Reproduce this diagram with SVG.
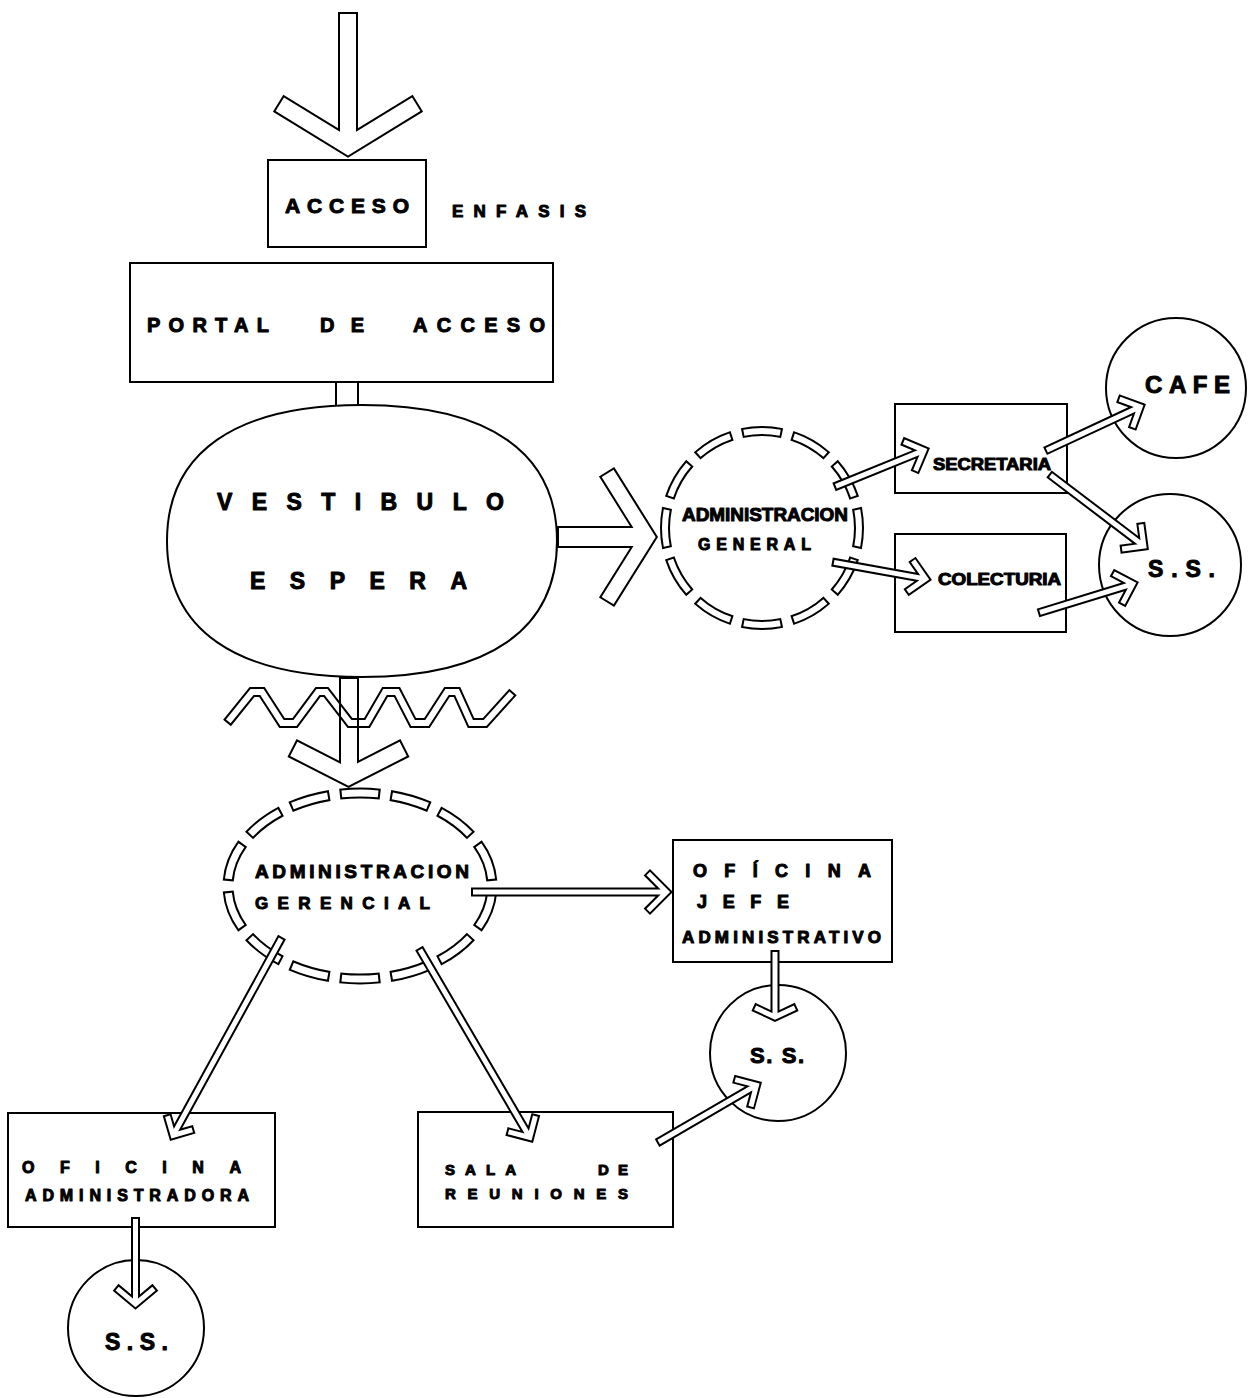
<svg xmlns="http://www.w3.org/2000/svg" width="1252" height="1398" viewBox="0 0 1252 1398">
<style>
.n{fill:none;stroke:#000;stroke-width:2}
.t{font-family:"Liberation Sans",Arial,sans-serif;font-weight:bold;fill:#000;stroke:#000;stroke-width:1;stroke-linejoin:round}
.kb{fill:none;stroke:#000;stroke-linejoin:miter;stroke-miterlimit:10;stroke-linecap:butt}
.kw{fill:none;stroke:#fff;stroke-linejoin:miter;stroke-miterlimit:10;stroke-linecap:butt}
.b9{stroke-width:9}.w5{stroke-width:5}
.ln{stroke:#000;stroke-width:2;fill:none}
</style>
<rect width="1252" height="1398" fill="#fff"/>

<g id="acceso">
<rect class="n" x="268" y="160" width="158" height="87"/>
<text class="t" x="285" y="213" font-size="21" textLength="124">ACCESO</text>
</g>
<g id="enfasis">
<text class="t" x="452" y="217" font-size="17" textLength="134">ENFASIS</text>
</g>
<g id="portal">
<rect class="n" x="130" y="263" width="423" height="119"/>
<text class="t" x="147" y="332" font-size="20" textLength="122">PORTAL</text>
<text class="t" x="320" y="332" font-size="20" textLength="44">DE</text>
<text class="t" x="413" y="332" font-size="20" textLength="132">ACCESO</text>
</g>
<g id="vestibulo">
<path class="n" d="M557,541 C557,629.4 488.8,677 362,677 C235.2,677 167,629.4 167,541 C167,452.6 235.2,405 362,405 C488.8,405 557,452.6 557,541 Z"/>
<text class="t" x="217" y="510" font-size="23" textLength="287">VESTIBULO</text>
<text class="t" x="250" y="589" font-size="23" textLength="217">ESPERA</text>
</g>
<g id="admin-general">
<circle cx="762" cy="528" r="97" pathLength="12" fill="none" stroke="#000" stroke-width="10" stroke-dasharray="0.8 0.2" stroke-dashoffset="0.4"/>
<circle cx="762" cy="528" r="97" pathLength="12" fill="none" stroke="#fff" stroke-width="6" stroke-dasharray="0.72 0.28" stroke-dashoffset="0.36"/>
<text class="t" x="682" y="521" font-size="18" textLength="166" lengthAdjust="spacingAndGlyphs">ADMINISTRACION</text>
<text class="t" x="698" y="550" font-size="16" textLength="113">GENERAL</text>
</g>
<g id="secretaria">
<rect class="n" x="895" y="404" width="172" height="89"/>
<text class="t" x="933" y="470" font-size="16" textLength="118" lengthAdjust="spacingAndGlyphs">SECRETARIA</text>
</g>
<g id="colecturia">
<rect class="n" x="895" y="534" width="171" height="98"/>
<text class="t" x="938" y="585" font-size="16" textLength="123" lengthAdjust="spacingAndGlyphs">COLECTURIA</text>
</g>
<g id="cafe">
<circle class="n" cx="1176" cy="388" r="70"/>
<text class="t" x="1145" y="393" font-size="24" textLength="85">CAFE</text>
</g>
<g id="ss-general">
<circle class="n" cx="1170" cy="565" r="71"/>
<text class="t" x="1148" y="577" font-size="23" textLength="67">S.S.</text>
</g>
<g id="admin-gerencial">
<ellipse cx="360" cy="886" rx="132" ry="93" pathLength="14" fill="none" stroke="#000" stroke-width="11" stroke-dasharray="0.8 0.2" stroke-dashoffset="-0.1"/>
<ellipse cx="360" cy="886" rx="132" ry="93" pathLength="14" fill="none" stroke="#fff" stroke-width="7" stroke-dasharray="0.72 0.28" stroke-dashoffset="-0.14"/>
<text class="t" x="255" y="878" font-size="19" textLength="214">ADMINISTRACION</text>
<text class="t" x="255" y="909" font-size="17" textLength="175">GERENCIAL</text>
</g>
<g id="oficina-jefe">
<rect class="n" x="673" y="840" width="219" height="122"/>
<text class="t" x="693" y="877" font-size="18" textLength="178">OFÍCINA</text>
<text class="t" x="697" y="908" font-size="18" textLength="92">JEFE</text>
<text class="t" x="682" y="943" font-size="17" textLength="199">ADMINISTRATIVO</text>
</g>
<g id="ss-jefe">
<circle class="n" cx="778" cy="1053" r="68"/>
<text class="t" x="750" y="1063" font-size="22" textLength="54">S. S.</text>
</g>
<g id="oficina-administradora">
<rect class="n" x="8" y="1113" width="267" height="114"/>
<text class="t" x="22" y="1173" font-size="16" textLength="219">OFICINA</text>
<text class="t" x="25" y="1201" font-size="16" textLength="224">ADMINISTRADORA</text>
</g>
<g id="sala-reuniones">
<rect class="n" x="418" y="1112" width="255" height="115"/>
<text class="t" x="445" y="1175" font-size="15" textLength="71">SALA</text>
<text class="t" x="598" y="1175" font-size="15" textLength="30">DE</text>
<text class="t" x="445" y="1199" font-size="15" textLength="183">REUNIONES</text>
</g>
<g id="ss-administradora">
<circle class="n" cx="136" cy="1328" r="68"/>
<text class="t" x="105" y="1350" font-size="23" textLength="63">S.S.</text>
</g>

<g id="connectors">
<path class="kb" stroke-width="20" d="M348,12 L348,146 M278.1,103.2 L348,146 L417.9,103.2"/>
<path class="kw" stroke-width="16" d="M348,14 L348,146 M279.8,104.2 L348,146 L416.2,104.2"/>
<path class="ln" d="M336,382 L336,405 M358,382 L358,405"/>
<path class="kb" stroke-width="22" d="M557,537 L647.4,537"/>
<path class="kb" stroke-width="18" d="M606.6,471.7 L647.4,537 L606.6,602.3"/>
<path class="kw" stroke-width="18" d="M559,537 L647.4,537"/>
<path class="kw" stroke-width="14" d="M607.6,473.4 L647.4,537 L607.6,600.6"/>
<path class="kb" stroke-width="20" d="M349,677 L349,776.8 M292,748 L348.5,776.8 L405,748"/>
<path class="kw" stroke-width="16" d="M349,679 L349,776.8 M293.8,748.9 L348.5,776.8 L403.2,748.9"/>
<path class="kb b9" d="M834,487 L924.1,450.4 M901.9,441 L924.1,450.4 L914.7,472.6"/>
<path class="kw w5" d="M835.9,486.2 L924.1,450.4 M903.8,441.8 L924.1,450.4 L915.5,470.7"/>
<path class="kb b9" d="M832,562 L925.7,578.9 M912,559.2 L925.7,578.9 L906,592.6"/>
<path class="kw w5" d="M834,562.4 L925.7,578.9 M913.1,560.8 L925.7,578.9 L907.6,591.5"/>
<path class="kb b9" d="M1045,451 L1140.2,406.7 M1117.6,398.5 L1140.2,406.7 L1132,429.3"/>
<path class="kw w5" d="M1046.8,450.2 L1140.2,406.7 M1119.5,399.2 L1140.2,406.7 L1132.7,427.4"/>
<path class="kb b9" d="M1049,474 L1143.9,546.1 M1140.7,522.3 L1143.9,546.1 L1120.1,549.3"/>
<path class="kw w5" d="M1050.6,475.2 L1143.9,546.1 M1140.9,524.3 L1143.9,546.1 L1122.1,549.1"/>
<path class="kb b9" d="M1038,613 L1132.9,583.9 M1111.7,572.6 L1132.9,583.9 L1121.6,605.1"/>
<path class="kw w5" d="M1039.9,612.4 L1132.9,583.9 M1113.5,573.6 L1132.9,583.9 L1122.6,603.3"/>
<path class="kb b9" d="M471,892 L666.6,892 M646.8,872.2 L666.6,892 L646.8,911.8"/>
<path class="kw w5" d="M473,892 L666.6,892 M648.2,873.6 L666.6,892 L648.2,910.4"/>
<path class="kb b9" d="M775,950 L775,1017 M753.3,1006.9 L775,1017 L796.7,1006.9"/>
<path class="kw w5" d="M775,952 L775,1017 M755.1,1007.7 L775,1017 L794.9,1007.7"/>
<path class="kb b9" d="M657,1143 L756.5,1085.2 M733.3,1079 L756.5,1085.2 L750.3,1108.4"/>
<path class="kw w5" d="M658.7,1142 L756.5,1085.2 M735.2,1079.6 L756.5,1085.2 L750.9,1106.5"/>
<path class="kb b9" d="M282,937 L173.1,1135.4 M166.9,1114.3 L173.1,1135.4 L194.2,1129.2"/>
<path class="kw w5" d="M281,938.8 L173.1,1135.4 M167.5,1116.2 L173.1,1135.4 L192.3,1129.8"/>
<path class="kb b9" d="M419,948 L529.8,1137.5 M506.5,1131.4 L529.8,1137.5 L535.9,1114.2"/>
<path class="kw w5" d="M420,949.7 L529.8,1137.5 M508.5,1131.9 L529.8,1137.5 L535.4,1116.2"/>
<path class="kb b9" d="M135.5,1217 L135.5,1304 M115.6,1287.3 L135.5,1304 L155.4,1287.3"/>
<path class="kw w5" d="M135.5,1219 L135.5,1304 M117.1,1288.6 L135.5,1304 L153.9,1288.6"/>
</g>

<g id="zigzag">
<path class="kb" stroke-width="10" d="M227,723 L252,692 L262,692 L282,723 L295,723 L318,692 L326,692 L350,723 L367,723 L385,692 L397,692 L413,723 L427,723 L447,692 L457,692 L471,723 L485,723 L513,692"/>
<path class="kw" stroke-width="6" d="M228.3,721.4 L252,692 L262,692 L282,723 L295,723 L318,692 L326,692 L350,723 L367,723 L385,692 L397,692 L413,723 L427,723 L447,692 L457,692 L471,723 L485,723 L511.7,693.5"/>
<path class="ln" d="M340,679 L340,760 M358,679 L358,760"/>
</g>
</svg>
